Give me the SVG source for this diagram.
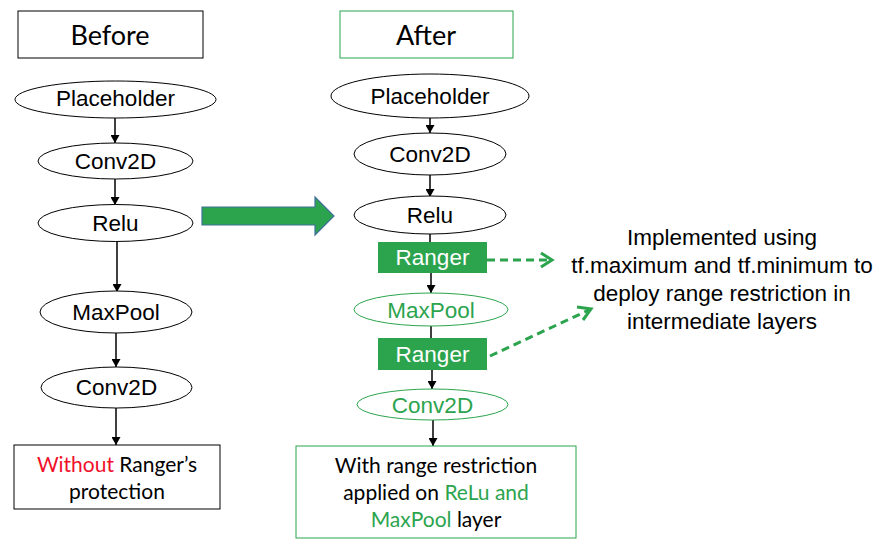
<svg xmlns="http://www.w3.org/2000/svg" width="880" height="546" viewBox="0 0 880 546">
<defs>
<style>
.lbl{font-family:"Liberation Sans",Arial,sans-serif;font-size:22.5px;text-anchor:middle;fill:#000}
.cal{font-family:Lato,"Open Sans",sans-serif;text-anchor:middle;fill:#000}
.node{fill:#fff;stroke:#000;stroke-width:1}
.gnode{fill:#fff;stroke:#2ca44e;stroke-width:1}
.ranger{fill:#2ca44e;stroke:none}
.edge{stroke:#000;stroke-width:1.5;fill:none}
.dash{stroke:#2ca44e;stroke-width:3;fill:none;stroke-dasharray:8 5}
.chev{stroke:#2ca44e;stroke-width:3;fill:none}
.g{fill:#2ca44e}
.r{fill:#f0102a}
</style>
<marker id="ah" markerUnits="userSpaceOnUse" markerWidth="8" markerHeight="9" refX="8" refY="4.5" orient="auto">
<path d="M0,0 L8,4.5 L0,9 Z" fill="#000"/>
</marker>
</defs>
<rect width="880" height="546" fill="#fff"/>

<g id="before-title">
<rect x="18" y="11" width="185" height="47" fill="#fff" stroke="#000" stroke-width="1"/>
<text class="cal" x="110" y="45" font-size="27">Before</text>
</g>
<g id="after-title">
<rect x="340" y="11" width="173" height="47" fill="#fff" stroke="#2ca44e" stroke-width="1"/>
<text class="cal" x="426" y="45" font-size="27">After</text>
</g>

<g id="connectors">
<line class="edge" x1="115" y1="118" x2="115" y2="143" marker-end="url(#ah)"/>
<line class="edge" x1="115" y1="179" x2="115" y2="205" marker-end="url(#ah)"/>
<line class="edge" x1="117" y1="241" x2="117" y2="292" marker-end="url(#ah)"/>
<line class="edge" x1="116" y1="333" x2="116" y2="367" marker-end="url(#ah)"/>
<line class="edge" x1="116" y1="408" x2="116" y2="445" marker-end="url(#ah)"/>
<line class="edge" x1="430" y1="118" x2="430" y2="133" marker-end="url(#ah)"/>
<line class="edge" x1="430" y1="175" x2="430" y2="197" marker-end="url(#ah)"/>
<line class="edge" x1="430" y1="234" x2="430" y2="243"/>
<line class="edge" x1="431" y1="273" x2="431" y2="293" marker-end="url(#ah)"/>
<line class="edge" x1="431" y1="326" x2="431" y2="339"/>
<line class="edge" x1="432" y1="370" x2="432" y2="389" marker-end="url(#ah)"/>
<line class="edge" x1="433" y1="420" x2="433" y2="446" marker-end="url(#ah)"/>
<line class="dash" x1="487" y1="260" x2="550" y2="260"/>
<polyline class="chev" points="541,253 552,260 541,267"/>
<line class="dash" x1="490" y1="356" x2="589" y2="310"/>
<polyline class="chev" points="577,307 591,309 583,320"/>
<path d="M202,207 H315 V197 L334,216 L315,235 V225 H202 Z" fill="#2ca44e" stroke="#41719c" stroke-width="1.2"/>
</g>

<g id="l-placeholder"><ellipse class="node" cx="115.5" cy="99.5" rx="100.5" ry="18.5"/><text class="lbl" x="115.5" y="106">Placeholder</text></g>
<g id="l-conv2d"><ellipse class="node" cx="115.5" cy="161" rx="77.5" ry="18"/><text class="lbl" x="115.5" y="169">Conv2D</text></g>
<g id="l-relu"><ellipse class="node" cx="115.5" cy="223" rx="77.5" ry="18.5"/><text class="lbl" x="115.5" y="231">Relu</text></g>
<g id="l-maxpool"><ellipse class="node" cx="116" cy="312" rx="76" ry="21"/><text class="lbl" x="116" y="320">MaxPool</text></g>
<g id="l-conv2d-2"><ellipse class="node" cx="116.5" cy="387.5" rx="75.5" ry="20.5"/><text class="lbl" x="116.5" y="395">Conv2D</text></g>
<g id="l-result">
<rect x="14" y="445" width="206" height="64" fill="#fff" stroke="#000" stroke-width="1"/>
<text class="cal" x="117" y="472" font-size="21"><tspan class="r">Without</tspan> Ranger’s</text>
<text class="cal" x="117" y="499" font-size="21">protection</text>
</g>

<g id="r-placeholder"><ellipse class="node" cx="430" cy="96" rx="99" ry="22"/><text class="lbl" x="430" y="104">Placeholder</text></g>
<g id="r-conv2d"><ellipse class="node" cx="430" cy="154" rx="76" ry="21"/><text class="lbl" x="430" y="162">Conv2D</text></g>
<g id="r-relu"><ellipse class="node" cx="430" cy="215" rx="76" ry="19"/><text class="lbl" x="430" y="223">Relu</text></g>
<g id="r-ranger-1"><rect class="ranger" x="378" y="242" width="109" height="31"/><text class="lbl" x="432.5" y="265" fill="#fff" style="fill:#fff">Ranger</text></g>
<g id="r-maxpool"><ellipse class="gnode" cx="431" cy="309.5" rx="77" ry="16.5"/><text class="lbl g" x="431" y="317.5" style="fill:#2ca44e">MaxPool</text></g>
<g id="r-ranger-2"><rect class="ranger" x="378" y="338" width="109" height="32"/><text class="lbl" x="432.5" y="362" style="fill:#fff">Ranger</text></g>
<g id="r-conv2d-2"><ellipse class="gnode" cx="432.5" cy="404.5" rx="75.5" ry="15.5"/><text class="lbl" x="432.5" y="412.5" style="fill:#2ca44e">Conv2D</text></g>
<g id="r-result">
<rect x="296" y="446" width="280" height="92" fill="#fff" stroke="#2ca44e" stroke-width="1"/>
<text class="cal" x="436" y="473" font-size="21">With range restriction</text>
<text class="cal" x="436" y="500" font-size="21">applied on <tspan class="g">ReLu and</tspan></text>
<text class="cal" x="436" y="527" font-size="21"><tspan class="g">MaxPool</tspan> layer</text>
</g>

<g id="note">
<text class="lbl" x="722" y="245">Implemented using</text>
<text class="lbl" x="722" y="273">tf.maximum and tf.minimum to</text>
<text class="lbl" x="722" y="301">deploy range restriction in</text>
<text class="lbl" x="722" y="329">intermediate layers</text>
</g>
</svg>
